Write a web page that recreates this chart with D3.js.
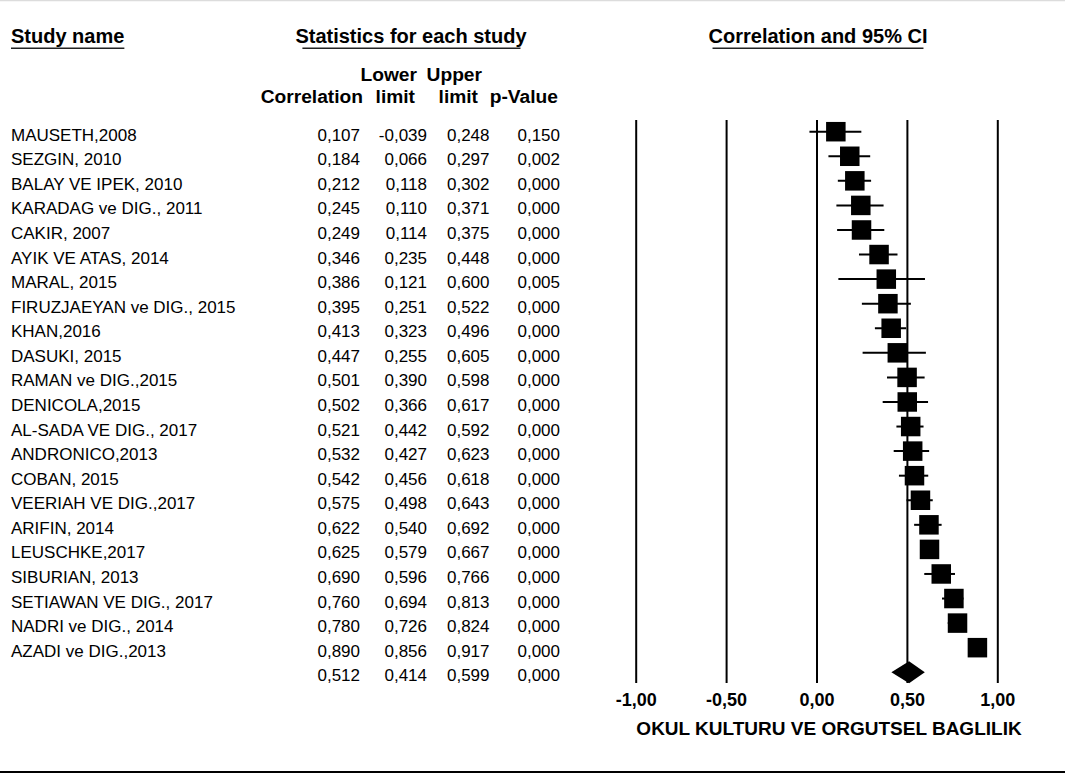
<!DOCTYPE html>
<html>
<head>
<meta charset="utf-8">
<script src="https://cdn.jsdelivr.net/npm/d3@7"></script>
<style>
    body { margin: 0; background: #fff; }
    svg { display: block; font-family: "Liberation Sans", Arial, sans-serif; }
    .head { font-size: 20px; font-weight: bold; }
    .colhead { font-size: 19.2px; font-weight: bold; }
    .cell { font-size: 17px; }
</style>
</head>
<body>
<script>
//study data
var studies = [
    "MAUSETH,2008", "SEZGIN, 2010", "BALAY VE IPEK, 2010", "KARADAG ve DIG., 2011",
    "CAKIR, 2007", "AYIK VE ATAS, 2014", "MARAL, 2015", "FIRUZJAEYAN ve DIG., 2015",
    "KHAN,2016", "DASUKI, 2015", "RAMAN ve DIG.,2015", "DENICOLA,2015",
    "AL-SADA VE DIG., 2017", "ANDRONICO,2013", "COBAN, 2015", "VEERIAH VE DIG.,2017",
    "ARIFIN, 2014", "LEUSCHKE,2017", "SIBURIAN, 2013", "SETIAWAN VE DIG., 2017",
    "NADRI ve DIG., 2014", "AZADI ve DIG.,2013"
];
var corr  = [0.107, 0.184, 0.212, 0.245, 0.249, 0.346, 0.386, 0.395, 0.413, 0.447, 0.501,
             0.502, 0.521, 0.532, 0.542, 0.575, 0.622, 0.625, 0.690, 0.760, 0.780, 0.890];
var lower = [-0.039, 0.066, 0.118, 0.110, 0.114, 0.235, 0.121, 0.251, 0.323, 0.255, 0.390,
             0.366, 0.442, 0.427, 0.456, 0.498, 0.540, 0.579, 0.596, 0.694, 0.726, 0.856];
var upper = [0.248, 0.297, 0.302, 0.371, 0.375, 0.448, 0.600, 0.522, 0.496, 0.605, 0.598,
             0.617, 0.592, 0.623, 0.618, 0.643, 0.692, 0.667, 0.766, 0.813, 0.824, 0.917];
var pval  = [0.150, 0.002, 0.000, 0.000, 0.000, 0.000, 0.005, 0.000, 0.000, 0.000, 0.000,
             0.000, 0.000, 0.000, 0.000, 0.000, 0.000, 0.000, 0.000, 0.000, 0.000, 0.000];

//pooled (summary) row
var pooled = { corr: 0.512, lower: 0.414, upper: 0.599, p: 0.000 };

//axis ticks and title
var tickValues = [-1, -0.5, 0, 0.5, 1];
var axisTitle = "OKUL KULTURU VE ORGUTSEL BAGLILIK";

var w = 1065, h = 773;

//comma decimal separator and plain hyphen minus like the original
var locale = d3.formatLocale({ decimal: ",", thousands: ".", grouping: [3], currency: ["", ""], minus: "-" });
var f3 = locale.format(".3f"),
    f2 = locale.format(".2f");

var rows = studies.map(function(s, i){
    return { name: s, corr: corr[i], lower: lower[i], upper: upper[i], p: pval[i] };
});

var container = d3.select("body")
    .append("svg")
    .attr("width", w)
    .attr("height", h)
    .attr("class", "container");

//thin gray frame line at top, black rule at bottom
container.append("line")
    .attr("x1", 0).attr("x2", w)
    .attr("y1", 0.5).attr("y2", 0.5)
    .style("stroke", "#dcdcdc")
    .style("stroke-width", 1.5);

container.append("line")
    .attr("x1", 0).attr("x2", w)
    .attr("y1", 772).attr("y2", 772)
    .style("stroke", "#000")
    .style("stroke-width", 2.2);

//scales
var x = d3.scaleLinear()
    .domain([-1, 1])
    .range([635.7, 997.3]);

var y = d3.scaleLinear()
    .domain([0, 1])
    .range([131.7, 156.27]); //row step ~24.57px

//section headers with underline
var heads = [
    { text: "Study name", x: 11, anchor: "start", inset: 0 },
    { text: "Statistics for each study", x: 411, anchor: "middle", inset: 7 },
    { text: "Correlation and 95% CI", x: 818, anchor: "middle", inset: 4 }
];

var headText = container.selectAll(".head")
    .data(heads)
    .enter()
    .append("text")
    .attr("class", "head")
    .attr("x", function(d){ return d.x; })
    .attr("y", 43)
    .attr("text-anchor", function(d){ return d.anchor; })
    .text(function(d){ return d.text; });

headText.each(function(d){
    var bb = this.getBBox();
    container.append("line")
        .attr("class", "underline")
        .attr("x1", bb.x + d.inset)
        .attr("x2", bb.x + bb.width - d.inset)
        .attr("y1", 48.3)
        .attr("y2", 48.3)
        .style("stroke", "#222")
        .style("stroke-width", 1.5);
});

//column headers
var colHeads = [
    { text: "Lower", x: 417, y: 81 },
    { text: "Upper", x: 482, y: 81 },
    { text: "Correlation", x: 363, y: 103 },
    { text: "limit", x: 415, y: 103 },
    { text: "limit", x: 478, y: 103 },
    { text: "p-Value", x: 558, y: 103 }
];

container.selectAll(".colhead")
    .data(colHeads)
    .enter()
    .append("text")
    .attr("class", "colhead")
    .attr("text-anchor", "end")
    .attr("x", function(d){ return d.x; })
    .attr("y", function(d){ return d.y; })
    .text(function(d){ return d.text; });

//table rows (studies + pooled)
var allRows = rows.concat([{ name: "", corr: pooled.corr, lower: pooled.lower, upper: pooled.upper, p: pooled.p }]);

var colRight = [360, 427, 489.5, 560];
var colKeys = ["corr", "lower", "upper", "p"];

var rowG = container.selectAll(".row")
    .data(allRows)
    .enter()
    .append("g")
    .attr("class", "row")
    .attr("transform", function(d, i){
        return "translate(0," + (y(i) + 9) + ")";
    });

rowG.append("text")
    .attr("class", "cell")
    .attr("x", 11)
    .text(function(d){ return d.name; });

colKeys.forEach(function(k, j){
    rowG.append("text")
        .attr("class", "cell")
        .attr("text-anchor", "end")
        .attr("x", colRight[j])
        .text(function(d){ return f3(d[k]); });
});

//vertical reference lines + tick labels via axis
var xAxis = d3.axisBottom(x)
    .tickValues(tickValues)
    .tickSizeInner(-(683 - 120))
    .tickSizeOuter(0)
    .tickPadding(10)
    .tickFormat(f2);

var axis = container.append("g")
    .attr("class", "axis")
    .attr("transform", "translate(0,683)")
    .call(xAxis);

axis.select(".domain").remove();
axis.selectAll("line")
    .style("stroke", "#000")
    .style("stroke-width", 2);
axis.selectAll("text")
    .attr("font-family", "Liberation Sans, Arial, sans-serif")
    .attr("font-size", "18px")
    .attr("font-weight", "bold")
    .style("fill", "#000");

container.append("text")
    .attr("class", "axisTitle")
    .attr("x", 829)
    .attr("y", 735)
    .attr("text-anchor", "middle")
    .style("font-size", "19px")
    .style("font-weight", "bold")
    .text(axisTitle);

//confidence interval whiskers
container.selectAll(".ci")
    .data(rows)
    .enter()
    .append("line")
    .attr("class", "ci")
    .attr("x1", function(d){ return x(d.lower); })
    .attr("x2", function(d){ return x(d.upper); })
    .attr("y1", function(d, i){ return y(i); })
    .attr("y2", function(d, i){ return y(i); })
    .style("stroke", "#000")
    .style("stroke-width", 2);

//point estimate boxes
var box = 19.5;
container.selectAll(".box")
    .data(rows)
    .enter()
    .append("rect")
    .attr("class", "box")
    .attr("x", function(d){ return x(d.corr) - box / 2; })
    .attr("y", function(d, i){ return y(i) - box / 2; })
    .attr("width", box)
    .attr("height", box)
    .style("fill", "#000");

//pooled diamond
var dy = y(rows.length);
container.append("path")
    .attr("class", "diamond")
    .attr("d", "M" + x(pooled.lower) + "," + dy +
               "L" + x(pooled.corr) + "," + (dy - 11) +
               "L" + x(pooled.upper) + "," + dy +
               "L" + x(pooled.corr) + "," + (dy + 11) + "Z")
    .style("fill", "#000");
</script>
</body>
</html>
